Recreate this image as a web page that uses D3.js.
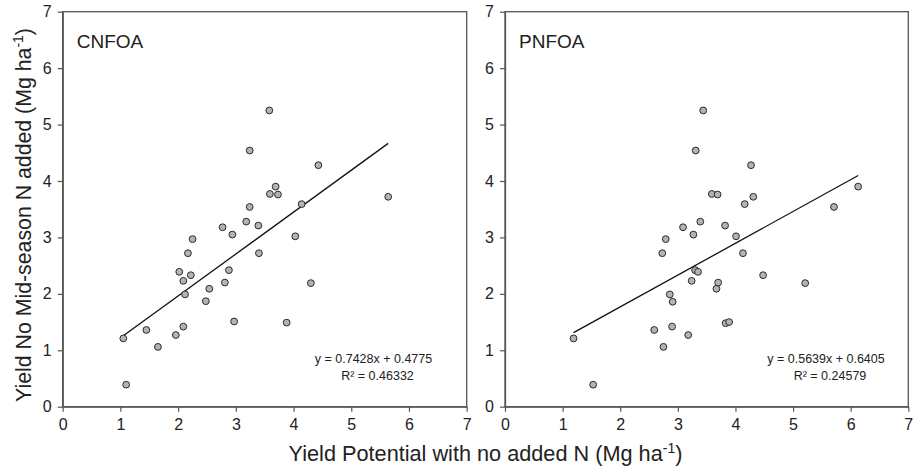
<!DOCTYPE html>
<html><head><meta charset="utf-8">
<script src="https://cdn.jsdelivr.net/npm/d3@7"></script>
<style>body{margin:0;background:#fff}svg{display:block}text{font-family:"Liberation Sans",Arial,sans-serif}</style>
</head><body><svg id="c" width="916" height="470"></svg>
<script>
const ticks = [0,1,2,3,4,5,6,7];
const cnfoaX = [1.05,1.10,1.45,1.65,1.96,2.09,2.02,2.09,2.12,2.17,2.22,2.25,2.48,2.54,2.77,2.81,2.88,2.94,2.97,3.18,3.24,3.24,3.39,3.40,3.58,3.59,3.69,3.73,3.88,4.03,4.14,4.30,4.43,5.64];
const cnfoaY = [1.21,0.39,1.36,1.06,1.27,1.42,2.39,2.23,1.99,2.72,2.33,2.97,1.87,2.09,3.18,2.20,2.42,3.05,1.51,3.28,4.54,3.54,3.21,2.72,5.25,3.77,3.90,3.76,1.49,3.02,3.59,2.19,4.28,3.72];
const pnfoaX = [1.19,1.53,2.59,2.75,2.73,2.79,2.86,2.90,2.91,3.09,3.18,3.24,3.27,3.31,3.30,3.35,3.39,3.44,3.59,3.69,3.67,3.70,3.82,3.83,3.89,4.01,4.13,4.16,4.27,4.31,4.48,5.21,5.71,6.13];
const pnfoaY = [1.21,0.39,1.36,1.06,2.72,2.97,1.99,1.42,1.86,3.18,1.27,2.23,3.05,4.54,2.42,2.39,3.28,5.25,3.77,3.76,2.09,2.20,3.21,1.48,1.50,3.02,2.72,3.59,4.28,3.72,2.33,2.19,3.54,3.90];
const fits = [
  {name:"CNFOA", slope:0.7428, icpt:0.4775, eq:"y = 0.7428x + 0.4775", r2:"R² = 0.46332"},
  {name:"PNFOA", slope:0.5639, icpt:0.6405, eq:"y = 0.5639x + 0.6405", r2:"R² = 0.24579"}
];
const panelsData = [{x:cnfoaX,y:cnfoaY},{x:pnfoaX,y:pnfoaY}];

const svg = d3.select("#c");
const panels = [{x0:62.7,x1:466.7,eq:373.5},{x0:505,x1:908.3,eq:826}];
const yTop = 11.7, yBot = 406.7;
const y = d3.scaleLinear().domain([0,7]).range([yBot,yTop]);

panels.forEach((p,i)=>{
  const x = d3.scaleLinear().domain([0,7]).range([p.x0,p.x1]);
  const g = svg.append("g");
  g.append("rect").attr("x",p.x0).attr("y",yTop).attr("width",p.x1-p.x0).attr("height",yBot-yTop)
    .attr("fill","none").attr("stroke","#555").attr("stroke-width",1.3);
  const xa = g.append("g").attr("transform",`translate(0,${yBot})`)
    .call(d3.axisBottom(x).tickValues(ticks).tickFormat(d3.format("d")).tickSize(5).tickSizeOuter(0).tickPadding(7));
  const ya = g.append("g").attr("transform",`translate(${p.x0},0)`)
    .call(d3.axisLeft(y).tickValues(ticks).tickFormat(d3.format("d")).tickSize(5).tickSizeOuter(0).tickPadding(6));
  [xa,ya].forEach(a=>{
    a.select(".domain").attr("stroke","#555").attr("stroke-width",1.3);
    a.selectAll(".tick line").attr("stroke","#555").attr("stroke-width",1.2);
    a.selectAll(".tick text").attr("font-size",16).attr("fill","#222").style("font-family","'Liberation Sans',Arial,sans-serif");
  });
  const f = fits[i], d = panelsData[i];
  const xs = d.x, ys = d.y;
  const xmin = d3.min(xs), xmax = d3.max(xs);
  g.append("line").attr("x1",x(xmin)).attr("y1",y(f.slope*xmin+f.icpt))
    .attr("x2",x(xmax)).attr("y2",y(f.slope*xmax+f.icpt))
    .attr("stroke","#111").attr("stroke-width",1.3);
  g.selectAll("circle").data(xs.map((v,k)=>[v,ys[k]])).join("circle")
    .attr("cx",q=>x(q[0])).attr("cy",q=>y(q[1])).attr("r",3.4)
    .attr("fill","#b3b3b3").attr("stroke","#2a2a2a").attr("stroke-width",1);
  g.append("text").attr("x",p.x0+14).attr("y",48).attr("font-size",19).attr("fill","#222").text(f.name);
  g.append("text").attr("x",p.eq).attr("y",363).attr("text-anchor","middle").attr("font-size",12.5).attr("fill","#222").text(f.eq);
  g.append("text").attr("x",p.eq+4).attr("y",380).attr("text-anchor","middle").attr("font-size",12.5).attr("fill","#222").text(f.r2);
});

const xt = svg.append("text").attr("x",485.5).attr("y",461).attr("text-anchor","middle").attr("font-size",21.7).attr("fill","#222");
xt.append("tspan").text("Yield Potential with no added N (Mg ha");
xt.append("tspan").attr("dy",-8).attr("font-size",14).text("-1");
xt.append("tspan").attr("dy",8).text(")");
const yt = svg.append("text").attr("transform","translate(31,215) rotate(-90)").attr("text-anchor","middle").attr("font-size",21.3).attr("fill","#222");
yt.append("tspan").text("Yield No Mid-season N added (Mg ha");
yt.append("tspan").attr("dy",-8).attr("font-size",14).text("-1");
yt.append("tspan").attr("dy",8).text(")");
</script></body></html>
